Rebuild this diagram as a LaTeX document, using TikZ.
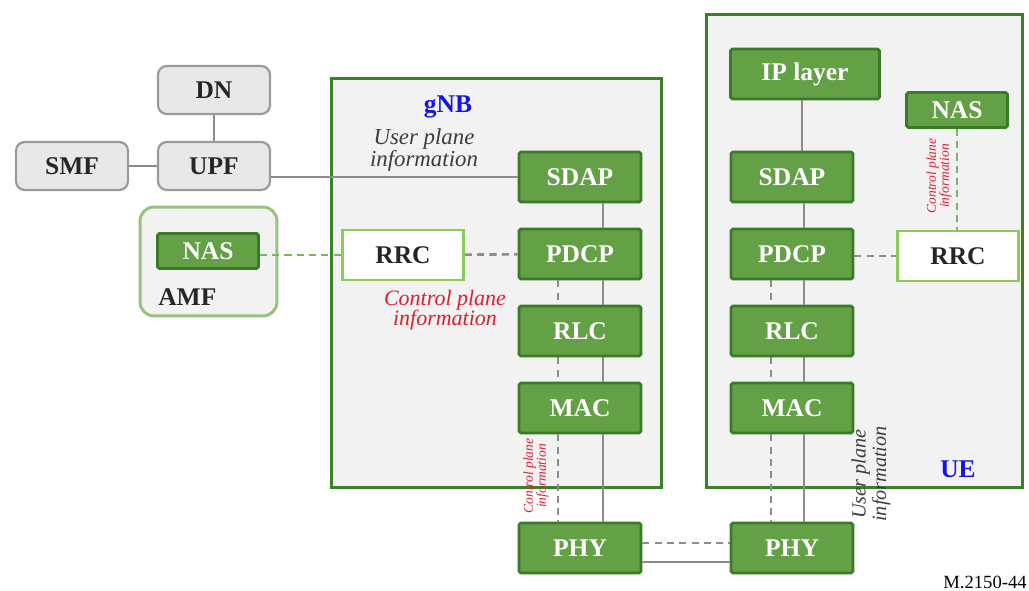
\documentclass[tikz,border=0pt]{standalone}
\usepackage{fontspec}
\setmainfont{Liberation Serif}

\definecolor{layerfill}{RGB}{100,160,70}
\definecolor{layerborder}{RGB}{58,122,40}
\definecolor{entityborder}{RGB}{60,128,44}
\definecolor{entityfill}{RGB}{242,242,242}
\definecolor{rrcborder}{RGB}{140,202,90}
\definecolor{amfborder}{RGB}{150,196,128}
\definecolor{corefill}{RGB}{232,232,232}
\definecolor{coreborder}{RGB}{155,155,155}
\definecolor{linkgrey}{RGB}{140,140,140}
\definecolor{cpgreen}{RGB}{125,180,95}
\definecolor{labelblue}{RGB}{20,20,230}
\definecolor{labelred}{RGB}{220,30,50}
\definecolor{notegrey}{RGB}{60,60,60}

\begin{document}
\begin{tikzpicture}[
x=0.02cm,y=-0.02cm,
layer/.style={
draw=layerborder,
line width=1.6pt,
fill=layerfill,
text=white,
font=\fontsize{14.5}{16}\selectfont\bfseries,
minimum width=2.44cm,
minimum height=1cm,
inner sep=0pt,
rounded corners=1pt
},
core/.style={
draw=coreborder,
line width=1.3pt,
fill=corefill,
text=black!85,
font=\fontsize{14.5}{16}\selectfont\bfseries,
minimum width=2.24cm,
minimum height=0.96cm,
inner sep=0pt,
rounded corners=5pt
},
rrcbox/.style={
draw=rrcborder,
line width=1.6pt,
fill=white,
text=black!85,
font=\fontsize{14.5}{16}\selectfont\bfseries,
minimum width=2.42cm,
minimum height=1cm,
inner sep=0pt
},
entity/.style={
draw=entityborder,
line width=1.7pt,
fill=entityfill,
inner sep=0pt
},
upline/.style={draw=linkgrey, line width=1.1pt},
cpline/.style={draw=linkgrey, line width=1.5pt, dash pattern=on 4pt off 3pt},
cpgreenline/.style={draw=cpgreen, line width=1.5pt, dash pattern=on 4pt off 3pt},
tag/.style={text=labelblue, font=\fontsize{14.5}{16}\selectfont\bfseries},
note/.style={text=notegrey, align=center, font=\fontsize{13}{11.5}\selectfont\itshape},
cpnote/.style={text=labelred, align=center, font=\fontsize{12.5}{11.5}\selectfont\itshape},
smallnote/.style={text=labelred, align=center, rotate=90, inner sep=0pt, font=\fontsize{7.7}{7.4}\selectfont\itshape}
]
\useasboundingbox (0,0) rectangle (1029,591);

% containers
\node[entity, minimum width=6.62cm, minimum height=8.2cm] (gNB) at (496.5,283) {};
\node[entity, minimum width=6.34cm, minimum height=9.48cm] (UE) at (864.5,251) {};
\node[entity, draw=amfborder, rounded corners=8pt, minimum width=2.74cm, minimum height=2.18cm] (AMF) at (208.5,261.5) {};

% core network
\node[core] (DN) at (214,90) {DN};
\node[core] (SMF) at (72,166) {SMF};
\node[core] (UPF) at (214,166) {UPF};
\node[layer, minimum width=2.02cm, minimum height=0.7cm] (NAS) at (208,251) {NAS};
\node[text=black!85, font=\fontsize{14.5}{16}\selectfont\bfseries, anchor=west, inner sep=0pt] (AMFlabel) at (158,297) {AMF};

% gNB stack
\node[tag] (gNBlabel) at (448,107) {gNB};
\node[layer] (SDAP) at (580,177) {SDAP};
\node[layer] (PDCP) at (580,254) {PDCP};
\node[layer] (RLC) at (580,331) {RLC};
\node[layer] (MAC) at (580,408) {MAC};
\node[layer] (PHY) at (580,548) {PHY};
\node[rrcbox] (RRC) at (403,255) {RRC};

% UE stack
\node[tag] (UElabel) at (958,469) {UE};
\node[layer, minimum width=2.98cm] (IP) at (805,74) {IP layer};
\node[layer, minimum width=2.02cm, minimum height=0.7cm] (NASue) at (957,110) {NAS};
\node[layer] (SDAPue) at (792,177) {SDAP};
\node[layer] (PDCPue) at (792,254) {PDCP};
\node[layer] (RLCue) at (792,331) {RLC};
\node[layer] (MACue) at (792,408) {MAC};
\node[layer] (PHYue) at (792,548) {PHY};
\node[rrcbox] (RRCue) at (958,256) {RRC};

% notes
\node[note] (upnote) at (424,150) {User plane\\information};
\node[cpnote] (cpnote) at (445,310) {Control plane\\information};
\node[smallnote] (cpnoteb) at (536,476) {Control plane\\information};
\node[smallnote] (cpnoteue) at (939,176) {Control plane\\information};
\node[note, rotate=90, inner sep=0pt, font=\fontsize{11.5}{10.5}\selectfont\itshape] (upnoteue) at (871,474) {User plane\\information};
\node[text=black, font=\fontsize{10.6}{12}\selectfont, anchor=east, inner sep=0pt] (fig) at (1027,582) {M.2150-44};

% core links
\draw[upline] (DN) -- (UPF);
\draw[upline] (SMF) -- (UPF);
\draw[upline] (UPF.east |- SDAP.west) -- (SDAP.west);
\draw[cpgreenline] (NAS.east |- RRC.west) -- (RRC.west);

% gNB links
\draw[cpline] (RRC) -- (PDCP);
\draw[upline] ([xshift=0.46cm]SDAP.south) -- ([xshift=0.46cm]PDCP.north);
\draw[upline] ([xshift=0.46cm]PDCP.south) -- ([xshift=0.46cm]RLC.north);
\draw[cpline] ([xshift=-0.44cm]PDCP.south) -- ([xshift=-0.44cm]RLC.north);
\draw[upline] ([xshift=0.46cm]RLC.south) -- ([xshift=0.46cm]MAC.north);
\draw[cpline] ([xshift=-0.44cm]RLC.south) -- ([xshift=-0.44cm]MAC.north);
\draw[upline] ([xshift=0.46cm]MAC.south) -- ([xshift=0.46cm]PHY.north);
\draw[cpline] ([xshift=-0.44cm]MAC.south) -- ([xshift=-0.44cm]PHY.north);

% air interface
\draw[cpline] ([yshift=0.1cm]PHY.east) -- ([yshift=0.1cm]PHYue.west);
\draw[upline] ([yshift=-0.28cm]PHY.east) -- ([yshift=-0.28cm]PHYue.west);

% UE links
\draw[upline] ([xshift=0.2cm]SDAPue.north) -- ([xshift=0.2cm]SDAPue.north |- IP.south);
\draw[upline] ([xshift=0.24cm]SDAPue.south) -- ([xshift=0.24cm]PDCPue.north);
\draw[cpline] (PDCPue.east |- RRCue.west) -- (RRCue.west);
\draw[cpgreenline] (NASue.south) -- (NASue.south |- RRCue.north);
\draw[upline] ([xshift=0.24cm]PDCPue.south) -- ([xshift=0.24cm]RLCue.north);
\draw[cpline] ([xshift=-0.42cm]PDCPue.south) -- ([xshift=-0.42cm]RLCue.north);
\draw[upline] ([xshift=0.24cm]RLCue.south) -- ([xshift=0.24cm]MACue.north);
\draw[cpline] ([xshift=-0.42cm]RLCue.south) -- ([xshift=-0.42cm]MACue.north);
\draw[upline] ([xshift=0.24cm]MACue.south) -- ([xshift=0.24cm]PHYue.north);
\draw[cpline] ([xshift=-0.42cm]MACue.south) -- ([xshift=-0.42cm]PHYue.north);

\end{tikzpicture}
\end{document}
